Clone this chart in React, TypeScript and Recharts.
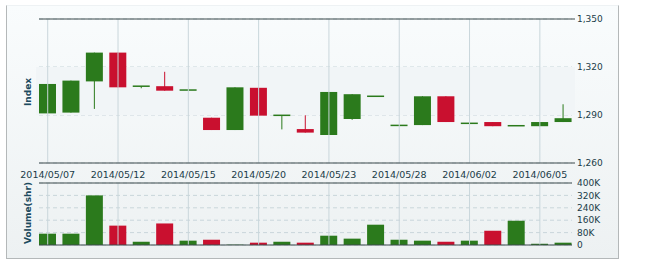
import { ComposedChart, Bar, XAxis, YAxis, CartesianGrid, ReferenceLine, ReferenceArea, Cell } from "recharts";

const dates = [
  "2014/05/07", "2014/05/08", "2014/05/09", "2014/05/12", "2014/05/13", "2014/05/14",
  "2014/05/15", "2014/05/16", "2014/05/19", "2014/05/20", "2014/05/21", "2014/05/22",
  "2014/05/23", "2014/05/26", "2014/05/27", "2014/05/28", "2014/05/29", "2014/05/30",
  "2014/06/02", "2014/06/03", "2014/06/04", "2014/06/05", "2014/06/06",
];
const opens = [1291, 1291.5, 1311, 1329, 1308, 1308, 1305.6, 1288.3, 1280.6, 1307, 1289.8, 1281.2, 1277.5, 1287.5, 1301.7, 1283.5, 1283.7, 1301.7, 1284.8, 1285.6, 1283.3, 1283, 1285.6];
const closes = [1309.4, 1311.5, 1329, 1307.3, 1308, 1305.2, 1305.6, 1280.6, 1307.3, 1289.6, 1289.8, 1279, 1304.4, 1303, 1301.7, 1283.5, 1301.7, 1285.6, 1284.8, 1283, 1283.3, 1285.6, 1288];
const highs = [1309.4, 1311.5, 1329, 1329, 1308, 1317, 1305.6, 1288.3, 1307.3, 1307, 1289.8, 1289.8, 1304.4, 1303, 1301.7, 1283.5, 1301.7, 1301.7, 1284.8, 1285.6, 1283.3, 1285.6, 1296.7];
const lows = [1291, 1291.5, 1293.8, 1307.3, 1306.7, 1305.2, 1305.6, 1280.6, 1280.6, 1289.6, 1281, 1279, 1277.5, 1287, 1301.7, 1283.5, 1283.7, 1285.6, 1284.8, 1283, 1283.3, 1283, 1285.6];
const volumes = [73000, 73000, 320000, 125000, 21000, 139000, 28000, 34000, 2000, 15000, 21000, 15000, 60000, 41000, 131000, 34000, 28000, 21000, 28000, 92000, 157000, 8000, 15000];

const priceTicks = [1260, 1290, 1320, 1350];
const volumeTicks = [0, 80000, 160000, 240000, 320000, 400000];
const labelDates = dates.filter((_, i) => i % 3 === 0);

const UP = "#2b7a1c";
const DOWN = "#c9102f";
const AXIS = "#3c4a4c";
const TEXT = "#203c48";
const GRID = "#c9d6db";

const data = dates.map((date, i) => ({
  date,
  open: opens[i],
  close: closes[i],
  high: highs[i],
  low: lows[i],
  volume: volumes[i],
  color: closes[i] >= opens[i] ? UP : DOWN,
}));

const Candle = (props: any) => {
  const { x, y, width, height, payload } = props;
  const { open, close, high, low, color } = payload;
  const cx = x + width / 2;
  if (high === low) {
    return <rect x={x} y={y - 0.75} width={width} height={1.5} fill={color} />;
  }
  const ratio = height / (high - low);
  const top = y + (high - Math.max(open, close)) * ratio;
  const bottom = y + (high - Math.min(open, close)) * ratio;
  const h = Math.max(bottom - top, 1.5);
  return (
    <g>
      <line x1={cx} x2={cx} y1={y} y2={y + height} stroke={color} strokeWidth={1} />
      <rect x={x} y={bottom - top < 1.5 ? top - 0.75 : top} width={width} height={h} fill={color} />
    </g>
  );
};

const PriceTick = (props: any) => {
  const { x, y, payload, index } = props;
  const edge = index === 0 || index === priceTicks.length - 1;
  return (
    <g>
      {edge && <line x1={x - 5} x2={x - 2} y1={y} y2={y} stroke={AXIS} />}
      <text x={x} y={y} dy="0.35em" fill={TEXT} fontSize={9} fontFamily="DejaVu Sans">
        {payload.value.toLocaleString("en-US")}
      </text>
    </g>
  );
};

const fmtVol = (v: number) => (v === 0 ? "0" : `${v / 1000}K`);

const tickStyle = { fill: TEXT, fontSize: 9, fontFamily: "DejaVu Sans" };

const axisTitle = (top: number, text: string) => (
  <div
    style={{
      position: "absolute",
      left: 28,
      top,
      transform: "translate(-50%, -50%) rotate(-90deg)",
      fontFamily: "DejaVu Sans",
      fontWeight: "bold",
      fontSize: 9,
      color: "#1d4b5e",
      whiteSpace: "nowrap",
    }}
  >
    {text}
  </div>
);

export default function App() {
  return (
    <div style={{ position: "absolute", left: 0, top: 0, width: 650, height: 266, background: "#fff" }}>
      <div
        style={{
          position: "absolute",
          left: 6,
          top: 5,
          width: 611,
          height: 252,
          borderLeft: "1px solid #b4b8b9",
          borderRight: "1px solid #b4b8b9",
          borderBottom: "1px solid #b4b8b9",
          borderTop: "1px solid #eef2f4",
          background: "linear-gradient(#f9fcfd, #edf1f2)",
        }}
      />
      <div style={{ position: "absolute", left: 0, top: 0 }}>
        <ComposedChart width={650} height={185} data={data} margin={{ top: 19, left: 39, right: 38, bottom: 0 }}>
          <ReferenceArea y1={1290} y2={1320} fill="#f1f5f7" fillOpacity={1} stroke="none" />
          <CartesianGrid vertical={false} stroke={GRID} strokeDasharray="4 3" />
          {labelDates.map((d) => (
            <ReferenceLine key={d} x={d} stroke={GRID} />
          ))}
          <XAxis
            dataKey="date"
            interval={2}
            height={22}
            padding={{ left: -3, right: -3 }}
            tickLine={false}
            tickSize={6}
            stroke={AXIS}
            tick={{ ...tickStyle, fontSize: 9.5 }}
          />
          <YAxis yAxisId="l" orientation="left" width={0} tick={false} tickLine={false} stroke={AXIS} />
          <YAxis
            orientation="right"
            width={40}
            domain={[1260, 1350]}
            ticks={priceTicks}
            interval={0}
            axisLine={false}
            tickLine={false}
            tickSize={0}
            tickMargin={5}
            tick={<PriceTick />}
          />
          <ReferenceLine y={1350} stroke={AXIS} />
          <Bar dataKey={(d: any) => [d.low, d.high]} barSize={17} shape={<Candle />} isAnimationActive={false} />
        </ComposedChart>
      </div>
      <div style={{ position: "absolute", left: 0, top: 175 }}>
        <ComposedChart width={650} height={80} data={data} margin={{ top: 8, left: 39, right: 38, bottom: 10 }}>
          <CartesianGrid vertical={false} stroke={GRID} strokeDasharray="4 3" />
          {labelDates.map((d) => (
            <ReferenceLine key={d} x={d} stroke={GRID} />
          ))}
          <XAxis dataKey="date" hide padding={{ left: -3, right: -3 }} />
          <YAxis yAxisId="l" orientation="left" width={0} tick={false} tickLine={false} stroke={AXIS} />
          <YAxis
            orientation="right"
            width={40}
            domain={[0, 400000]}
            ticks={volumeTicks}
            interval={0}
            tickFormatter={fmtVol}
            axisLine={false}
            tickLine={false}
            tickSize={0}
            tickMargin={5}
            tick={tickStyle}
          />
          <Bar dataKey="volume" barSize={17} isAnimationActive={false}>
            {data.map((d, i) => (
              <Cell key={`vol-${i}`} fill={d.color} />
            ))}
          </Bar>
          <ReferenceLine y={400000} stroke={AXIS} />
          <ReferenceLine y={0} stroke={AXIS} />
        </ComposedChart>
      </div>
      {axisTitle(92, "Index")}
      {axisTitle(213, "Volume(shr)")}
    </div>
  );
}
